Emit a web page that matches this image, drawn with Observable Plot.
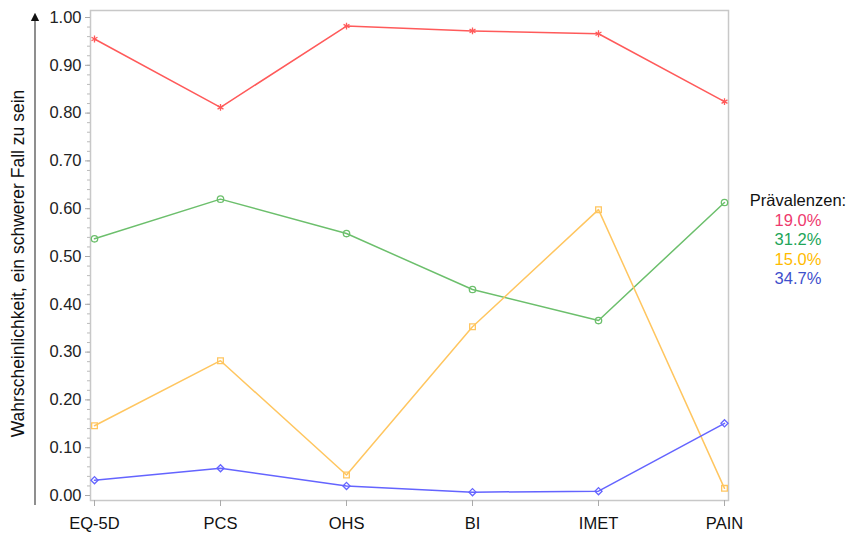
<!DOCTYPE html>
<html>
<head>
<meta charset="utf-8">
<script src="https://cdn.jsdelivr.net/npm/d3@7"></script>
<script src="https://cdn.jsdelivr.net/npm/@observablehq/plot@0.6"></script>
<style>
  body { margin: 0; background: #fff; font-family: "Liberation Sans", Arial, sans-serif; }
  #wrap { position: relative; width: 850px; height: 536px; }
  #legend { position: absolute; left: 744px; top: 191px; width: 108px; text-align: center;
            font-size: 16.5px; line-height: 19.5px; color: #111; }
</style>
</head>
<body>
<div id="wrap">
  <div id="chart"></div>
  <div id="legend"></div>
</div>
<script>
// Outcome measures on the x axis
const measures = ["EQ-5D", "PCS", "OHS", "BI", "IMET", "PAIN"];

// Probability of being a severe case, per latent class
const classRed    = [0.955, 0.812, 0.982, 0.972, 0.966, 0.824];
const classGreen  = [0.537, 0.620, 0.548, 0.431, 0.366, 0.613];
const classYellow = [0.146, 0.282, 0.043, 0.353, 0.598, 0.015];
const classBlue   = [0.032, 0.057, 0.020, 0.007, 0.009, 0.151];

// Class prevalences
const prevalences = ["19.0%", "31.2%", "15.0%", "34.7%"];

const yTicks = d3.range(0, 1.0001, 0.1);
const yMinor = d3.range(0, 1.0001, 0.02);

const series = [
  {name: "red",    values: classRed,    line: "#ff5a5a", symbol: "asterisk", legend: "#ee3a6e"},
  {name: "green",  values: classGreen,  line: "#6cbf6c", symbol: "circle",   legend: "#22a558"},
  {name: "yellow", values: classYellow, line: "#ffc660", symbol: "square",   legend: "#ffbb00"},
  {name: "blue",   values: classBlue,   line: "#6464ff", symbol: "diamond2", legend: "#3f50cc"}
];

const rows = series.flatMap(s => measures.map((m, i) => ({series: s.name, measure: m, value: s.values[i]})));

const marks = [Plot.frame({stroke: "#c8c8c8", strokeWidth: 1.5})];
for (const s of series) {
  const data = rows.filter(d => d.series === s.name);
  marks.push(Plot.line(data, {x: "measure", y: "value", stroke: s.line, strokeWidth: 1.5}));
  marks.push(Plot.dot(data, {x: "measure", y: "value", stroke: s.line, symbol: s.symbol, r: 3.2, strokeWidth: 1.3, fill: "none"}));
}
marks.push(
  Plot.axisY({ticks: yMinor, tickSize: 3, stroke: "#bbb", text: null, label: null}),
  Plot.axisY({ticks: yTicks, tickSize: 5, stroke: "#aaa", tickFormat: d3.format(".2f"),
              fontSize: 16.5, fill: "#222", tickPadding: 4, label: null}),
  Plot.axisX({tickSize: 6, stroke: "#aaa", fontSize: 16.5, fill: "#111", tickPadding: 11, label: null}),
  Plot.text(["Wahrscheinlichkeit, ein schwerer Fall zu sein"], {
    frameAnchor: "left", textAnchor: "middle", dx: -72, dy: 8, rotate: -90, fontSize: 17.5, fill: "#111"
  })
);

const chart = Plot.plot({
  width: 850,
  height: 536,
  marginLeft: 90,
  marginRight: 122,
  marginTop: 10,
  marginBottom: 36,
  style: {fontFamily: "Liberation Sans, Arial, sans-serif", background: "#fff"},
  x: {type: "point", domain: measures, padding: 0, insetLeft: 4, insetRight: 4},
  y: {domain: [0, 1], insetTop: 7, insetBottom: 5},
  marks
});
document.getElementById("chart").append(chart);

// Upward arrow beside the y-axis title
const svg = d3.select(chart);
const defs = svg.append("defs");
defs.append("marker").attr("id", "arrowhead").attr("viewBox", "0 0 10 10")
  .attr("refX", 5).attr("refY", 5).attr("markerWidth", 7).attr("markerHeight", 8)
  .attr("orient", "auto")
  .append("path").attr("d", "M0,0 L10,5 L0,10 Z").attr("fill", "#111");
svg.append("line").attr("x1", 35).attr("x2", 35).attr("y1", 505).attr("y2", 17)
  .attr("stroke", "#444").attr("stroke-width", 1.2).attr("marker-end", "url(#arrowhead)");

// Legend of prevalences
const legend = d3.select("#legend");
legend.append("div").text("Prävalenzen:");
series.forEach((s, i) => legend.append("div").style("color", s.legend).text(prevalences[i]));
</script>
</body>
</html>
